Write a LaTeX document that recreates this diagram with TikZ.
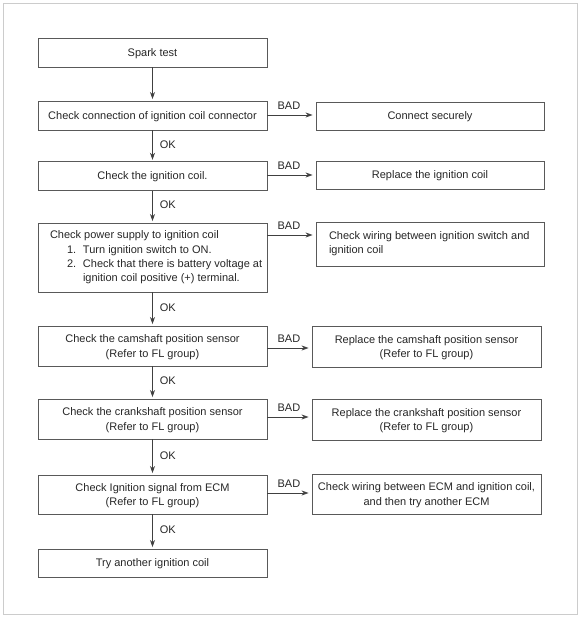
\documentclass[tikz,border=0pt]{standalone}
\usepackage{fontspec}
\setmainfont{Liberation Sans}
\usetikzlibrary{arrows.meta}
\begin{document}
\begin{tikzpicture}[x=1pt,y=-1pt,
  boxbase/.style={draw=black!65, line width=0.9pt, minimum width=229pt, inner sep=0pt,
              align=center, font=\fontsize{11}{14.3}\selectfont, text=black!85},
  box/.style={boxbase, text depth=-2.6pt},
  rbox/.style={box, minimum width=228pt},
  arr/.style={draw=black!75, line width=0.8pt, -{Stealth[length=7pt,width=5pt]}},
  lab/.style={font=\fontsize{11}{13}\selectfont, text=black!85, inner sep=0pt}]
\useasboundingbox (0,0) rectangle (582,618);
\draw[black!20, line width=0.8pt] (3.5,3.5) rectangle (577,614);

% left column
\node[box, minimum height=29pt]   (L1) at (152.5,52.5)  {Spark test};
\node[box, minimum height=29pt]   (L2) at (152.5,115.5) {Check connection of ignition coil connector};
\node[box, minimum height=28.5pt] (L3) at (152.5,176)   {Check the ignition coil.};
\node[boxbase, minimum height=69pt] (L4) at (152.5,257.5) {\raisebox{-3pt}{\parbox{205pt}{\raggedright
  \mbox{Check power supply to ignition coil}\\
  \mbox{\hspace*{17pt}\makebox[16pt][l]{1.}Turn ignition switch to ON.}\\
  \mbox{\hspace*{17pt}\makebox[16pt][l]{2.}Check that there is battery voltage at}\\
  \mbox{\hspace*{33pt}ignition coil positive (+) terminal.}}}};
\node[box, minimum height=40pt]   (L5) at (152.5,346)   {Check the camshaft position sensor\\(Refer to FL group)};
\node[box, minimum height=40pt]   (L6) at (152.5,419)   {Check the crankshaft position sensor\\(Refer to FL group)};
\node[box, minimum height=39pt]   (L7) at (152.5,494.5) {Check Ignition signal from ECM\\(Refer to FL group)};
\node[box, minimum height=28pt]   (L8) at (152.5,563)   {Try another ignition coil};

% right column
\node[rbox, minimum height=28pt] (R1) at (430,116) {Connect securely};
\node[rbox, minimum height=28pt] (R2) at (430,175) {Replace the ignition coil};
\node[boxbase, minimum width=228pt, minimum height=44pt] (R3) at (430,244) {\raisebox{-2.5pt}{\parbox{202pt}{\raggedright
  Check wiring between ignition switch and\\ignition coil}}};
\node[box, minimum height=41pt] (R4) at (426.5,346.5) {Replace the camshaft position sensor\\(Refer to FL group)};
\node[box, minimum height=41pt] (R5) at (426.5,419.5) {Replace the crankshaft position sensor\\(Refer to FL group)};
\node[box, minimum height=40pt] (R6) at (426.5,494)   {Check wiring between ECM and ignition coil,\\and then try another ECM};

% vertical OK arrows
\draw[arr, shorten >=1.5pt] (L1.south) -- (L2.north);
\foreach \a/\b in {L2/L3,L3/L4,L4/L5,L5/L6,L6/L7,L7/L8}{
  \draw[arr, shorten >=1.5pt] (\a.south) -- node[lab, right=7pt, pos=0.45] {OK} (\b.north);
}

% BAD arrows
\foreach \a/\b/\y in {L2/R1/115,L3/R2/175,L4/R3/235,L5/R4/348,L6/R5/417,L7/R6/493}{
  \coordinate (s\a) at (\a.east |- 0,\y);
  \draw[arr, shorten >=3pt] (s\a) -- (\b.west |- s\a);
  \node[lab, anchor=south west] at ([xshift=10pt,yshift=5pt]s\a) {BAD};
}
\end{tikzpicture}
\end{document}
